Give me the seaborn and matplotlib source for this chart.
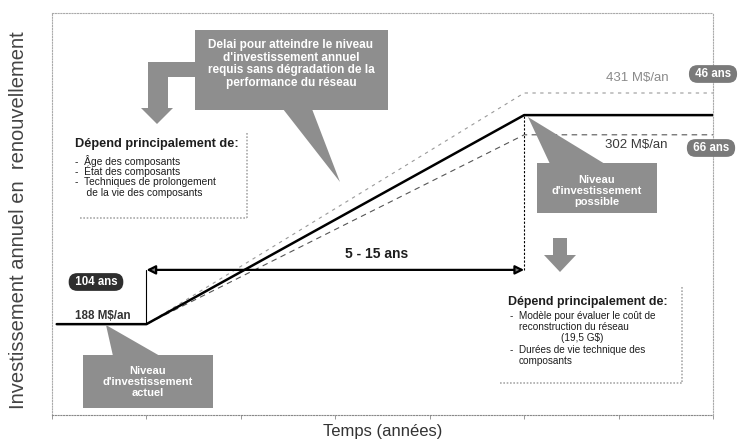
import matplotlib.pyplot as plt
import numpy as np
import pandas as pd
import seaborn as sns
from matplotlib.patches import Polygon

# --- Données du schéma (unités schématiques) ---
# x : grille temporelle (0..7), y : hauteur relative du niveau d'investissement (0..100)
TIME_MAIN = [0.05, 1.0, 5.0, 7.0]
INVEST_MAIN = [22.6, 22.6, 74.6, 74.6]
TIME_SCEN = [1.0, 5.0, 7.0]
INVEST_HIGH = [22.6, 80.1, 80.1]   # 431 M$/an
INVEST_LOW = [22.6, 69.7, 69.7]    # 302 M$/an
ARROW_LEVEL = 36.1

LEVEL_LABELS = ["188 M$/an", "302 M$/an", "431 M$/an"]
DURATION_LABELS = ["104 ans", "66 ans", "46 ans"]
TIME_TICKS = list(range(0, 8))

# --- Mise en page (pixels de l'image de référence) ---
FIG_W, FIG_H, DPI = 738, 442, 100
AX_L, AX_R, AX_T, AX_B = 52, 713, 13, 415
X_MAX, Y_MAX = 7.0, 100.0

GRAY_BOX = "#8e8e8e"
GRAY_DARK = "#2e2e2e"
GRAY_BADGE = "#7a7a7a"
TXT = "#1e1e1e"


def px(x, y):
    """Convertit une position en pixels (image de référence) en coordonnées de données."""
    return ((x - AX_L) / (AX_R - AX_L) * X_MAX, (AX_B - y) / (AX_B - AX_T) * Y_MAX)


def poly(ax, pts, color, z=3):
    ax.add_patch(Polygon([px(*p) for p in pts], closed=True, fc=color, ec="none",
                         zorder=z, clip_on=False))


def callout(ax, box, wedge, lines, center, size=8):
    x0, y0, x1, y1 = box
    poly(ax, [(x0, y0), (x1, y0), (x1, y1), (x0, y1)], GRAY_BOX)
    poly(ax, wedge, GRAY_BOX)
    ax.text(*px(*center), lines, ha="center", va="center", color="white",
            fontsize=size, fontweight="bold", linespacing=1.1, zorder=4)


def badge(ax, center, label, color):
    ax.text(*px(*center), f" {label} ", ha="center", va="center", color="white",
            fontsize=8.3, fontweight="bold", zorder=5, clip_on=False,
            bbox=dict(boxstyle="round,pad=0.25,rounding_size=0.75", fc=color, ec="none"))


def main():
    sns.set_theme(style="white")
    plt.rcParams["font.family"] = ["Liberation Sans", "DejaVu Sans"]

    fig = plt.figure(figsize=(FIG_W / DPI, FIG_H / DPI), dpi=DPI)
    ax = fig.add_axes([AX_L / FIG_W, 1 - AX_B / FIG_H,
                       (AX_R - AX_L) / FIG_W, (AX_B - AX_T) / FIG_H])

    df_main = pd.DataFrame({"t": TIME_MAIN, "v": INVEST_MAIN})
    df_high = pd.DataFrame({"t": TIME_SCEN, "v": INVEST_HIGH})
    df_low = pd.DataFrame({"t": TIME_SCEN, "v": INVEST_LOW})

    sns.lineplot(data=df_main, x="t", y="v", ax=ax, color="black", lw=1.8,
                 estimator=None, sort=False, zorder=3)
    sns.lineplot(data=df_high, x="t", y="v", ax=ax, color="#9a9a9a", lw=0.8,
                 estimator=None, sort=False, linestyle=(0, (3, 4)))
    sns.lineplot(data=df_low, x="t", y="v", ax=ax, color="#555555", lw=0.8,
                 estimator=None, sort=False, linestyle=(0, (5, 4)))

    # barres verticales et flèche de durée
    ax.plot([TIME_SCEN[0], TIME_SCEN[0]], [INVEST_MAIN[1], ARROW_LEVEL], color="black", lw=0.8)
    ax.plot([TIME_SCEN[1], TIME_SCEN[1]], [ARROW_LEVEL, INVEST_MAIN[2]], color="black",
            lw=0.8, linestyle=(0, (2, 1.5)))
    ax.annotate("", xy=(TIME_SCEN[1], ARROW_LEVEL), xytext=(TIME_SCEN[0], ARROW_LEVEL),
                arrowprops=dict(arrowstyle="<|-|>", color="black", fc="#777777", lw=1.6,
                                mutation_scale=13, shrinkA=0, shrinkB=0))
    ax.text(*px(377, 254), "5 - 15 ans", ha="center", va="center", fontsize=10,
            fontweight="bold", color=TXT)

    # étiquettes de niveaux
    ax.text(*px(103, 316), LEVEL_LABELS[0], ha="center", va="center", fontsize=8.4,
            fontweight="bold", color="#333333")
    ax.text(*px(636, 145), LEVEL_LABELS[1], ha="center", va="center", fontsize=9.5,
            color="#3a3a3a")
    ax.text(*px(637, 78), LEVEL_LABELS[2], ha="center", va="center", fontsize=9.5,
            color="#8a8a8a")

    badge(ax, (96, 282), DURATION_LABELS[0], GRAY_DARK)
    badge(ax, (711, 148), DURATION_LABELS[1], GRAY_BADGE)
    badge(ax, (713, 74), DURATION_LABELS[2], GRAY_BADGE)

    # bulles grises
    callout(ax, (195, 30, 388, 110), [(283, 109), (312, 109), (340, 182)],
            "Delai pour atteindre le niveau\nd'investissement annuel\n"
            "requis sans dégradation de la\nperformance du réseau", (291, 64), size=8.5)
    callout(ax, (537, 163, 657, 213), [(550, 164), (605, 164), (528, 117)],
            "Niveau\nd'investissement\npossible", (597, 191))
    callout(ax, (83, 355, 213, 408), [(113, 356), (160, 356), (106, 325)],
            "Niveau\nd'investissement\nactuel", (148, 382))

    # flèche coudée (haut gauche) et flèche vers le bas (droite)
    poly(ax, [(196, 62), (148, 62), (148, 108), (141, 108), (157, 124), (173, 108),
              (168, 108), (168, 77), (196, 77)], GRAY_BOX)
    poly(ax, [(553, 238), (567, 238), (567, 255), (576, 255), (560, 272), (544, 255),
              (553, 255)], GRAY_BOX)

    # encadrés "Dépend principalement de"
    for (xr, yt, yb, xl) in [(247, 133, 218, 80), (682, 287, 383, 500)]:
        ax.plot(*zip(px(xr, yt), px(xr, yb)), color="#aaaaaa", lw=1.2, linestyle=(0, (1, 1)))
        ax.plot(*zip(px(xl, yb), px(xr, yb)), color="#aaaaaa", lw=1.2, linestyle=(0, (1, 1)))

    ax.text(*px(75, 144), "Dépend principalement de:", fontsize=9.2, fontweight="bold",
            va="center", color=TXT)
    left_items = [("-  Âge des composants", 161), ("-  État des composants", 171.5),
                  ("-  Techniques de prolongement", 182), ("    de la vie des composants", 192.5)]
    for s, y in left_items:
        ax.text(*px(75, y), s, fontsize=7.4, va="center", color=TXT)

    ax.text(*px(508, 302), "Dépend principalement de:", fontsize=8.9, fontweight="bold",
            va="center", color=TXT)
    right_items = [("-  Modèle pour évaluer le coût de", 316, 510, "left"),
                   ("reconstruction du réseau", 327, 519, "left"),
                   ("(19,5 G$)", 338, 582, "center"),
                   ("-  Durées de vie technique des", 350, 510, "left"),
                   ("composants", 361, 519, "left")]
    for s, y, x, ha in right_items:
        ax.text(*px(x, y), s, fontsize=7.2, va="center", ha=ha, color=TXT)

    # axes
    ax.set_xlim(0, X_MAX)
    ax.set_ylim(0, Y_MAX)
    ax.set_xticks(TIME_TICKS)
    ax.set_xticklabels([])
    ax.set_yticks([])
    ax.tick_params(axis="x", direction="out", length=3, width=0.6, color="#888888", bottom=True)
    for sp in ax.spines.values():
        sp.set_linestyle((0, (1, 1.5)))
        sp.set_color("#aaaaaa")
        sp.set_linewidth(0.8)
    ax.spines["bottom"].set_color("#888888")
    ax.set_xlabel("Temps (années)", fontsize=12, color="#333333", va="center")
    ax.xaxis.set_label_coords(0.5, -0.042)
    ax.set_ylabel("Investissement annuel en  renouvellement", fontsize=14.5,
                  color="#444444", va="center")
    ax.yaxis.set_label_coords(-0.051, 0.485)
    if ax.get_legend():
        ax.get_legend().remove()

    fig.savefig("out.png", dpi=DPI)
    plt.close(fig)


if __name__ == "__main__":
    main()
